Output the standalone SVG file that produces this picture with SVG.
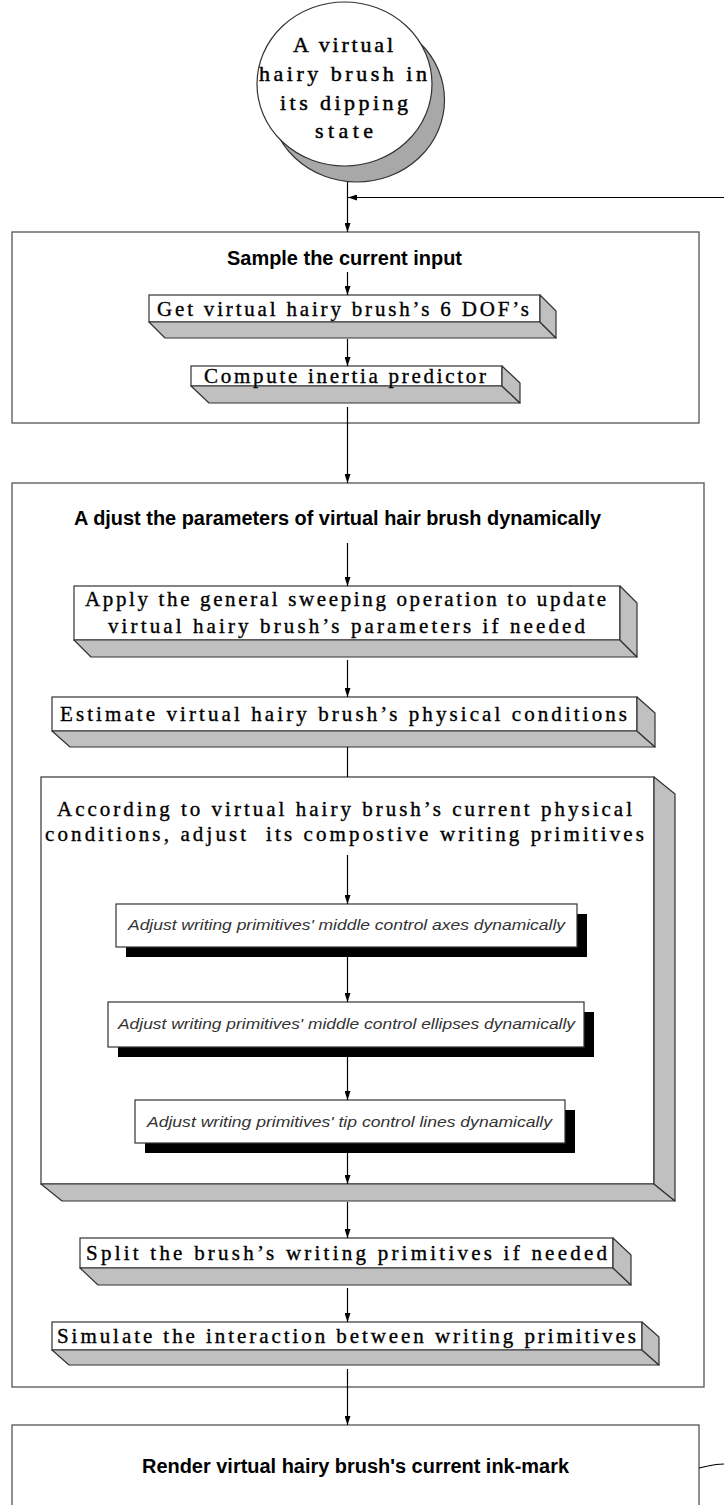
<svg xmlns="http://www.w3.org/2000/svg" width="724" height="1505" viewBox="0 0 724 1505">
<style>
.bg{fill:#ffffff}
.cont{fill:#ffffff;stroke:#555555;stroke-width:1.3}
.face{fill:#ffffff;stroke:#333333;stroke-width:1.2}
.side{fill:#c0c0c0;stroke:#333333;stroke-width:1.2;stroke-linejoin:round}
.shadow{fill:#000000}
.conn{stroke:#000000;stroke-width:1.2;fill:none}
.title{font-family:"Liberation Sans",Arial,sans-serif;font-weight:bold;font-size:20px;fill:#000}
.mono{font-family:"Liberation Serif","Times New Roman",serif;font-size:21px;fill:#000;stroke:#000;stroke-width:0.35}
.circ{font-family:"Liberation Serif","Times New Roman",serif;font-size:22px;fill:#000;stroke:#000;stroke-width:0.45}
.ital{font-family:"Liberation Sans",Arial,sans-serif;font-style:italic;font-size:15px;fill:#333}
</style>
<defs>
<marker id="ah" markerUnits="userSpaceOnUse" markerWidth="10" markerHeight="6" refX="9" refY="3" orient="auto">
<path d="M0,0 L9,3 L0,6 z" fill="#000"/>
</marker>
</defs>
<rect class="bg" x="0" y="0" width="724" height="1505"/>

<g id="start">
<ellipse cx="357" cy="100" rx="87.5" ry="82" fill="#a8a8a8" stroke="#333" stroke-width="1.2"/>
<ellipse cx="344.5" cy="84" rx="87.5" ry="82" fill="#ffffff" stroke="#333" stroke-width="1.2"/>
<text class="circ" x="293" y="52" textLength="100" lengthAdjust="spacing">A virtual</text>
<text class="circ" x="259" y="81" textLength="168" lengthAdjust="spacing">hairy brush in</text>
<text class="circ" x="280" y="110" textLength="128" lengthAdjust="spacing">its dipping</text>
<text class="circ" x="315" y="138" textLength="58" lengthAdjust="spacing">state</text>
</g>

<g id="sample">
<rect class="cont" x="12" y="232" width="687" height="191"/>
<text class="title" x="227" y="265" textLength="235" lengthAdjust="spacingAndGlyphs">Sample the current input</text>
</g>

<g id="get-dof">
<rect class="face" x="149" y="295" width="391" height="27"/>
<polygon class="side" points="149,322 165,338 556,338 540,322"/>
<polygon class="side" points="540,295 556,311 556,338 540,322"/>
<text class="mono" x="157" y="316" textLength="372" lengthAdjust="spacing">Get virtual hairy brush’s 6 DOF’s</text>
</g>

<g id="compute">
<rect class="face" x="191" y="366" width="311" height="20"/>
<polygon class="side" points="191,386 209,403 520,403 502,386"/>
<polygon class="side" points="502,366 520,383 520,403 502,386"/>
<text class="mono" x="204" y="383" textLength="282" lengthAdjust="spacing">Compute inertia predictor</text>
</g>

<g id="adjust">
<rect class="cont" x="12" y="483" width="692" height="904"/>
<text class="title" x="74" y="525" textLength="527" lengthAdjust="spacingAndGlyphs">A djust the parameters of virtual hair brush dynamically</text>
</g>

<g id="apply">
<rect class="face" x="74" y="586" width="546" height="54"/>
<polygon class="side" points="74,640 91,657 637,657 620,640"/>
<polygon class="side" points="620,586 637,603 637,657 620,640"/>
<text class="mono" x="85" y="606" textLength="521" lengthAdjust="spacing">Apply the general sweeping operation to update</text>
<text class="mono" x="108" y="633" textLength="477" lengthAdjust="spacing">virtual hairy brush’s parameters if needed</text>
</g>

<g id="estimate">
<rect class="face" x="52" y="697" width="585" height="34"/>
<polygon class="side" points="52,731 70,747 655,747 637,731"/>
<polygon class="side" points="637,697 655,713 655,747 637,731"/>
<text class="mono" x="60" y="721" textLength="567" lengthAdjust="spacing">Estimate virtual hairy brush’s physical conditions</text>
</g>

<g id="according">
<rect class="face" x="41" y="777" width="613" height="407"/>
<polygon class="side" points="41,1184 62,1201 675,1201 654,1184"/>
<polygon class="side" points="654,777 675,794 675,1201 654,1184"/>
<text class="mono" x="57" y="816" textLength="575" lengthAdjust="spacing">According to virtual hairy brush’s current physical</text>
<text class="mono" x="45" y="841" textLength="599" lengthAdjust="spacing" xml:space="preserve">conditions, adjust  its compostive writing primitives</text>
</g>

<g id="axes">
<rect class="shadow" x="126" y="914" width="461" height="43"/>
<rect class="face" x="116" y="904" width="461" height="43"/>
<text class="ital" x="128" y="930" textLength="437" lengthAdjust="spacingAndGlyphs">Adjust writing primitives' middle control axes dynamically</text>
</g>

<g id="ellipses">
<rect class="shadow" x="118" y="1012" width="476" height="45"/>
<rect class="face" x="108" y="1002" width="476" height="45"/>
<text class="ital" x="118" y="1029" textLength="457" lengthAdjust="spacingAndGlyphs">Adjust writing primitives' middle control ellipses dynamically</text>
</g>

<g id="tip">
<rect class="shadow" x="145" y="1110" width="430" height="43"/>
<rect class="face" x="135" y="1100" width="430" height="43"/>
<text class="ital" x="147" y="1127" textLength="405" lengthAdjust="spacingAndGlyphs">Adjust writing primitives' tip control lines dynamically</text>
</g>

<g id="split">
<rect class="face" x="80" y="1238" width="533" height="30"/>
<polygon class="side" points="80,1268 98,1285 631,1285 613,1268"/>
<polygon class="side" points="613,1238 631,1255 631,1285 613,1268"/>
<text class="mono" x="86" y="1260" textLength="521" lengthAdjust="spacing">Split the brush’s writing primitives if needed</text>
</g>

<g id="simulate">
<rect class="face" x="52" y="1322" width="590" height="28"/>
<polygon class="side" points="52,1350 69,1365 659,1365 642,1350"/>
<polygon class="side" points="642,1322 659,1337 659,1365 642,1350"/>
<text class="mono" x="57" y="1343" textLength="579" lengthAdjust="spacing">Simulate the interaction between writing primitives</text>
</g>

<g id="render">
<rect class="cont" x="12" y="1425" width="687" height="100"/>
<text class="title" x="142" y="1473" textLength="427" lengthAdjust="spacingAndGlyphs">Render virtual hairy brush's current ink-mark</text>
</g>

<g id="connectors">
<line class="conn" x1="347.5" y1="182" x2="347.5" y2="232" marker-end="url(#ah)"/>
<line class="conn" x1="724" y1="197.5" x2="348" y2="197.5" marker-end="url(#ah)"/>
<line class="conn" x1="347.5" y1="272" x2="347.5" y2="295" marker-end="url(#ah)"/>
<line class="conn" x1="347.5" y1="339" x2="347.5" y2="366" marker-end="url(#ah)"/>
<line class="conn" x1="347.5" y1="407" x2="347.5" y2="483" marker-end="url(#ah)"/>
<line class="conn" x1="347.5" y1="543" x2="347.5" y2="586" marker-end="url(#ah)"/>
<line class="conn" x1="347.5" y1="660" x2="347.5" y2="697" marker-end="url(#ah)"/>
<line class="conn" x1="347.5" y1="747" x2="347.5" y2="777"/>
<line class="conn" x1="347.5" y1="855" x2="347.5" y2="904" marker-end="url(#ah)"/>
<line class="conn" x1="347.5" y1="957" x2="347.5" y2="1002" marker-end="url(#ah)"/>
<line class="conn" x1="347.5" y1="1057" x2="347.5" y2="1100" marker-end="url(#ah)"/>
<line class="conn" x1="347.5" y1="1153" x2="347.5" y2="1184" marker-end="url(#ah)"/>
<line class="conn" x1="347.5" y1="1202" x2="347.5" y2="1238" marker-end="url(#ah)"/>
<line class="conn" x1="347.5" y1="1288" x2="347.5" y2="1322" marker-end="url(#ah)"/>
<line class="conn" x1="347.5" y1="1369" x2="347.5" y2="1425" marker-end="url(#ah)"/>
<path class="conn" d="M699,1468 L708,1466 Q716,1464 724,1464"/>
</g>
</svg>
